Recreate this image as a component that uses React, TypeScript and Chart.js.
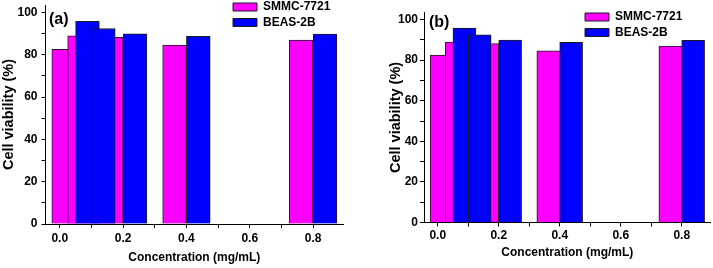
import React, { useEffect, useRef } from 'react';
import { Chart, registerables } from 'chart.js';

Chart.register(...registerables);

// ---- data ----
const concentrations = [0.05, 0.1, 0.2, 0.4, 0.8];
const smmcViability = [82.5, 88.9, 88.2, 84.6, 86.9];
const beasViability = [95.8, 92.4, 89.9, 88.7, 89.7];
const seriesNames = ['SMMC-7721', 'BEAS-2B'];
const xTickLabels = ['0.0', '0.2', '0.4', '0.6', '0.8'];
const yTickLabels = ['0', '20', '40', '60', '80', '100'];
const panelTags = ['(a)', '(b)'];
const xTitle = 'Concentration (mg/mL)';
const yTitle = 'Cell viability (%)';

// ---- style ----
const FONT = '"Liberation Sans", Arial, sans-serif';
const COLORS = ['#ff00ff', '#0000ff'];
const BORDER = '#1a1a1a';
const BAR_WIDTH = 0.075; // data units on the concentration axis
const X_MIN = -0.045;
const X_MAX = 0.895;
const Y_MAX = 103.5;

type Panel = {
  tag: string;
  left: number;
  padding: { left: number; top: number; right: number; bottom: number };
  yWidth: number;
  xHeight: number;
  yTickPad: number;
  xTickPad: number;
  xTitlePad: number;
  yTitlePad: number;
  legendLeft: number;
  legendTop: number;
  tagDx: number;
  tagY: number;
};

const panels: Panel[] = [
  {
    tag: panelTags[0], left: 0,
    padding: { left: 0, top: 5, right: 12.8, bottom: 0 },
    yWidth: 45.5, xHeight: 44, yTickPad: 4, xTickPad: 3, xTitlePad: 3, yTitlePad: 0,
    legendLeft: 229.5, legendTop: -2.5, tagDx: 3.5, tagY: 19.4,
  },
  {
    tag: panelTags[1], left: 357,
    padding: { left: 30, top: 12.4, right: 2.3, bottom: 0 },
    yWidth: 37, xHeight: 45.5, yTickPad: 2, xTickPad: 2, xTitlePad: 7.8, yTitlePad: 0,
    legendLeft: 224.5, legendTop: 7.5, tagDx: 5, tagY: 22.8,
  },
];

const decorPlugin = {
  id: 'panelDecor',
  afterLayout(chart: any, _args: any, opts: any) {
    const lg = chart.legend;
    if (lg) {
      lg.left = opts.legendLeft;
      lg.top = opts.legendTop;
      lg.width = 160;
      lg.height = 80;
      lg.right = lg.left + 160;
      lg.bottom = lg.top + 80;
    }
  },
  afterDraw(chart: any, _args: any, opts: any) {
    const ctx = chart.ctx;
    ctx.save();
    ctx.font = `bold 16px ${FONT}`;
    ctx.fillStyle = '#000';
    ctx.textAlign = 'left';
    ctx.textBaseline = 'middle';
    ctx.fillText(opts.tag, chart.chartArea.left + opts.tagDx, opts.tagY);
    ctx.restore();
  },
};

function PanelChart({ p }: { p: Panel }) {
  const ref = useRef<HTMLCanvasElement>(null);
  useEffect(() => {
    const canvas = ref.current;
    if (!canvas) return;
    const thickness = (ctx: any) => {
      const s = ctx.chart.scales.x;
      if (!s || !s.width) return 20;
      return Math.abs(s.getPixelForValue(BAR_WIDTH) - s.getPixelForValue(0));
    };
    const font12 = { family: FONT, size: 12, weight: 'bold' as const };
    const fontYTitle = { family: FONT, size: 14.5, weight: 'bold' as const };
    const chart = new Chart(canvas, {
      type: 'bar',
      data: {
        datasets: [
          {
            label: seriesNames[0],
            data: concentrations.map((c, i) => ({ x: c - BAR_WIDTH / 2, y: smmcViability[i] })),
            backgroundColor: COLORS[0],
            borderColor: BORDER,
            borderWidth: 1,
            grouped: false,
            order: 1,
            barThickness: thickness as any,
          },
          {
            label: seriesNames[1],
            data: concentrations.map((c, i) => ({ x: c + BAR_WIDTH / 2, y: beasViability[i] })),
            backgroundColor: COLORS[1],
            borderColor: BORDER,
            borderWidth: 1,
            grouped: false,
            order: 0,
            barThickness: thickness as any,
          },
        ] as any,
      },
      options: {
        responsive: false,
        animation: false,
        devicePixelRatio: 1,
        events: [],
        layout: { padding: p.padding, autoPadding: false },
        scales: {
          x: {
            type: 'linear',
            min: X_MIN,
            max: X_MAX,
            offset: false,
            grid: { display: true, offset: false, drawOnChartArea: false, drawTicks: true, tickLength: 4, color: '#000', tickWidth: 1 },
            border: { display: true, color: '#000', width: 1 },
            ticks: {
              stepSize: 0.1,
              includeBounds: false,
              autoSkip: false,
              maxRotation: 0,
              padding: p.xTickPad,
              color: '#000',
              font: font12,
              callback: (v: any) => {
                const s = Number(v).toFixed(1);
                return xTickLabels.includes(s) ? s : '';
              },
            },
            title: { display: true, text: xTitle, color: '#000', font: font12, padding: { top: 0, bottom: p.xTitlePad } },
            afterFit: (s: any) => {
              s.height = p.xHeight;
              s.paddingLeft = 0;
              s.paddingRight = 0;
            },
          },
          y: {
            type: 'linear',
            min: 0,
            max: Y_MAX,
            grid: { display: true, drawOnChartArea: false, drawTicks: true, tickLength: 4, color: '#000', tickWidth: 1 },
            border: { display: true, color: '#000', width: 1 },
            ticks: {
              stepSize: 10,
              includeBounds: false,
              autoSkip: false,
              padding: p.yTickPad,
              color: '#000',
              font: font12,
              callback: (v: any) => {
                const s = String(Math.round(Number(v)));
                return yTickLabels.includes(s) ? s : '';
              },
            },
            title: { display: true, text: yTitle, color: '#000', font: fontYTitle, padding: { top: p.yTitlePad, bottom: 0 } },
            afterFit: (s: any) => {
              s.width = p.yWidth;
              s.paddingTop = 0;
              s.paddingBottom = 0;
            },
          },
        },
        plugins: {
          legend: {
            display: true,
            position: 'chartArea' as any,
            align: 'start',
            labels: {
              boxWidth: 24,
              boxHeight: 8,
              padding: 3.5,
              color: '#000',
              font: font12,
              sort: (a: any, b: any) => a.datasetIndex - b.datasetIndex,
            },
          },
          tooltip: { enabled: false },
          panelDecor: { legendLeft: p.legendLeft, legendTop: p.legendTop, tag: p.tag, tagDx: p.tagDx, tagY: p.tagY },
        } as any,
      },
      plugins: [decorPlugin],
    });
    return () => chart.destroy();
  }, [p]);
  return (
    <canvas
      ref={ref}
      width={356}
      height={268}
      style={{ position: 'absolute', left: p.left, top: 0, width: 356, height: 268, display: 'block' }}
    />
  );
}

export default function App() {
  return (
    <div style={{ position: 'absolute', left: 0, top: 0, width: 713, height: 268, background: '#fff', overflow: 'hidden' }}>
      {panels.map((p) => (
        <PanelChart key={p.tag} p={p} />
      ))}
    </div>
  );
}
